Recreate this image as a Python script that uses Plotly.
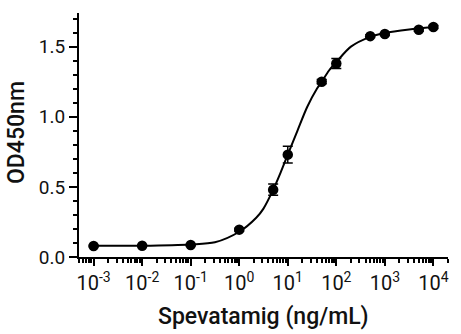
import plotly.graph_objects as go

# Measured data (mean OD450 and error)
conc = [0.001, 0.01, 0.1, 1, 5, 10, 50, 100, 500, 1000, 5000, 10000]
od450 = [0.078, 0.08, 0.085, 0.195, 0.48, 0.73, 1.25, 1.38, 1.575, 1.59, 1.62, 1.64]
od_err = [0.005, 0.005, 0.005, 0.01, 0.04, 0.06, 0.015, 0.035, 0.01, 0.01, 0.01, 0.01]

# Fitted curve
curve_x = [0.001, 0.01, 0.1, 0.316, 1, 2.24, 3.16, 5.01, 7.08, 10, 15.8, 25.1, 39.8, 50.1,
           70.8, 100, 200, 500, 1000, 3160, 10000]
curve_y = [0.08, 0.081, 0.09, 0.105, 0.18, 0.28, 0.345, 0.48, 0.6, 0.73, 0.9, 1.07, 1.2,
           1.25, 1.33, 1.39, 1.50, 1.57, 1.597, 1.622, 1.64]

x_tickvals = [1e-3, 1e-2, 1e-1, 1, 10, 100, 1000, 10000]
x_ticktext = ["10<sup>-3</sup>", "10<sup>-2</sup>", "10<sup>-1</sup>", "10<sup>0</sup>",
              "10<sup>1</sup>", "10<sup>2</sup>", "10<sup>3</sup>", "10<sup>4</sup>"]

minor_vals = [m * 10 ** e for e in range(-4, 5) for m in range(2, 10)
              if 5e-4 <= m * 10 ** e <= 2e4]

FONT = "Roboto"

fig = go.Figure()
fig.add_trace(go.Scatter(
    x=curve_x, y=curve_y, mode="lines",
    line=dict(color="black", width=2, shape="spline", smoothing=0.8),
    hoverinfo="skip", showlegend=False,
))
fig.add_trace(go.Scatter(
    x=conc, y=od450, mode="markers",
    marker=dict(color="black", size=10.5),
    error_y=dict(type="data", array=od_err, color="black", thickness=1.5, width=5),
    showlegend=False,
))

fig.update_layout(
    width=461, height=334,
    margin=dict(l=79, r=13, t=13, b=77),
    plot_bgcolor="white", paper_bgcolor="white",
    font=dict(family=FONT, color="black", size=19),
    xaxis=dict(
        type="log", range=[-3.30103, 4.30103],
        tickmode="array", tickvals=x_tickvals, ticktext=x_ticktext,
        ticks="outside", ticklen=7, tickwidth=2, tickcolor="black",
        showline=True, linecolor="black", linewidth=2,
        showgrid=False, zeroline=False,
        tickfont=dict(family=FONT, size=20, color="#111"),
        minor=dict(tickmode="array", tickvals=minor_vals, ticks="outside",
                   ticklen=4, tickwidth=1.5, tickcolor="black", showgrid=False),
    ),
    yaxis=dict(
        range=[0, 1.74], tickmode="linear", tick0=0, dtick=0.5,
        tickformat=".1f",
        ticks="outside", ticklen=8, tickwidth=2, tickcolor="black",
        showline=True, linecolor="black", linewidth=2,
        showgrid=False, zeroline=False,
        tickfont=dict(family=FONT, size=19, color="#111"),
        minor=dict(dtick=0.1, ticks="outside", ticklen=4, tickwidth=1.5,
                   tickcolor="black", showgrid=False),
    ),
    annotations=[
        dict(text="Spevatamig (ng/mL)", xref="paper", yref="paper", x=0.5, y=0,
             xanchor="center", yanchor="middle", yshift=-59, showarrow=False,
             font=dict(family=FONT, size=23, color="#111", weight=500)),
        dict(text="OD450nm", xref="paper", yref="paper", x=0, y=0.5,
             xanchor="center", yanchor="middle", xshift=-63, yshift=2, textangle=-90,
             showarrow=False,
             font=dict(family=FONT, size=23, color="#111", weight=500)),
    ],
)

fig.write_html("out.html")
